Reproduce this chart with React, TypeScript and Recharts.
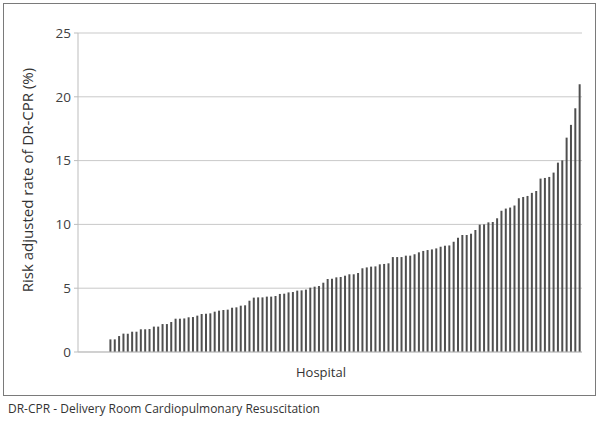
import React from 'react';
import { BarChart, Bar, XAxis, YAxis, CartesianGrid, Label } from 'recharts';

// risk adjusted DR-CPR rate (%) per hospital, sorted ascending
const rates = [
  0, 0, 0, 0, 0, 0, 0,
  0.99, 0.99, 1.25, 1.44, 1.44, 1.59, 1.59, 1.78, 1.78, 1.8, 1.99, 1.99, 2.19, 2.19, 2.35, 2.61, 2.61, 2.63,
  2.72, 2.74, 2.85, 2.98, 3.0, 3.03, 3.16, 3.24, 3.29, 3.32, 3.47, 3.5, 3.63, 3.66, 4.02, 4.26, 4.28, 4.28,
  4.34, 4.34, 4.39, 4.55, 4.57, 4.67, 4.7, 4.81, 4.83, 4.89, 5.04, 5.12, 5.17, 5.43, 5.72, 5.75, 5.85, 5.88,
  5.98, 6.09, 6.09, 6.19, 6.56, 6.63, 6.69, 6.71, 6.87, 6.9, 6.95, 7.44, 7.44, 7.44, 7.55, 7.55, 7.66, 7.81, 7.92,
  7.99, 8.04, 8.12, 8.25, 8.33, 8.35, 8.64, 8.96, 9.17, 9.17, 9.27, 9.56, 9.98, 10.0, 10.16, 10.19, 10.48, 11.07,
  11.24, 11.32, 11.48, 12.05, 12.15, 12.23, 12.47, 12.62, 13.59, 13.64, 13.72, 14.06, 14.84, 15.02, 16.8, 17.8, 19.1, 20.98,
];

const yTicks = [0, 5, 10, 15, 20, 25];

const data = rates.map((rate, i) => ({ hospital: `H${i + 1}`, rate }));

const FONT = '"Open Sans", sans-serif';

const YTitle = () => (
  <text
    x={27}
    y={180}
    transform="rotate(-90, 27, 180)"
    textAnchor="middle"
    dominantBaseline="central"
    fontFamily={FONT}
    fontSize={15}
    fill="#333"
  >
    Risk adjusted rate of DR-CPR (%)
  </text>
);

const XTitle = () => (
  <text
    x={321}
    y={372}
    textAnchor="middle"
    dominantBaseline="central"
    fontFamily={FONT}
    fontSize={13}
    fill="#333"
  >
    Hospital
  </text>
);

export default function App() {
  return (
    <div style={{ position: 'absolute', left: 0, top: 0, width: 600, height: 421, background: '#fff' }}>
      <div
        style={{
          position: 'absolute',
          left: 3,
          top: 3,
          width: 593,
          height: 393,
          border: '1px solid #7a7a7a',
          boxSizing: 'border-box',
        }}
      />
      <div style={{ position: 'absolute', left: 0, top: 0 }}>
        <BarChart
          width={600}
          height={421}
          data={data}
          margin={{ top: 33, right: 18, bottom: 49, left: 0 }}
          barCategoryGap={0}
        >
          <CartesianGrid vertical={false} stroke="#c9c9c9" />
          <XAxis
            dataKey="hospital"
            tick={false}
            tickLine={false}
            height={20}
            axisLine={{ stroke: '#bdbdbd' }}
          >
            <Label content={<XTitle />} />
          </XAxis>
          <YAxis
            domain={[0, 25]}
            ticks={yTicks}
            width={78}
            tickSize={4}
            tickMargin={3}
            tickLine={{ stroke: '#bdbdbd' }}
            axisLine={{ stroke: '#bdbdbd' }}
            tick={{ fontFamily: FONT, fontSize: 13.5, fill: '#404040' }}
          >
            <Label content={<YTitle />} />
          </YAxis>
          <Bar dataKey="rate" fill="#4f4f4f" barSize={2} isAnimationActive={false} />
        </BarChart>
      </div>
      <div
        style={{
          position: 'absolute',
          left: 8,
          top: 401,
          fontFamily: FONT,
          fontSize: 12,
          color: '#333',
          whiteSpace: 'nowrap',
          lineHeight: '16px',
        }}
      >
        DR-CPR - Delivery Room Cardiopulmonary Resuscitation
      </div>
    </div>
  );
}
